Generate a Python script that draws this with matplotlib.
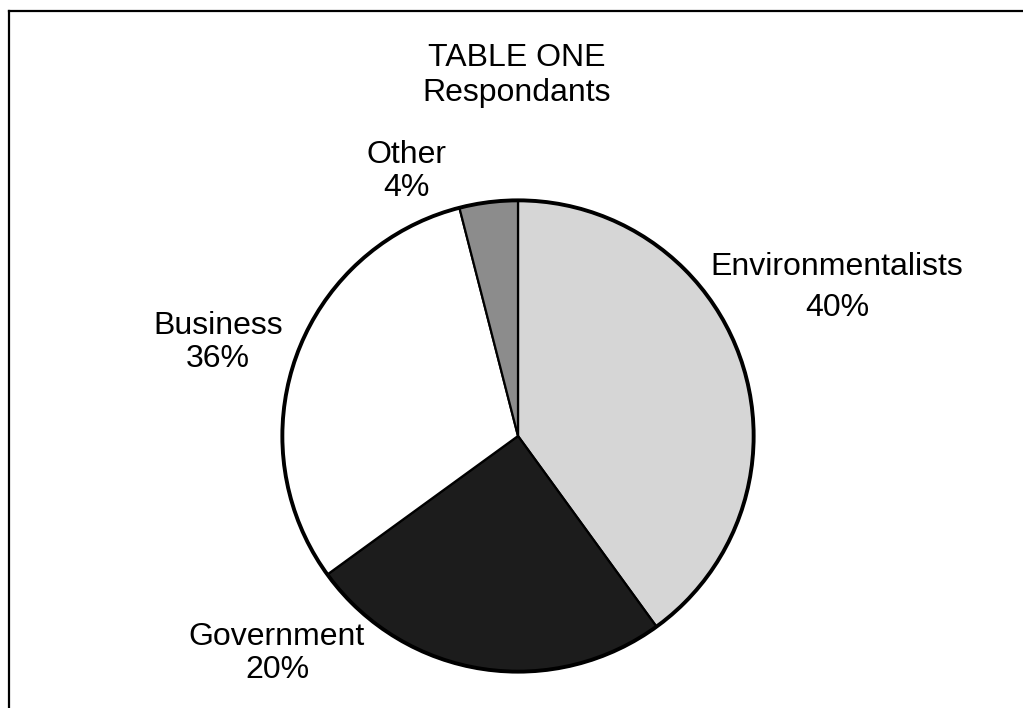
import matplotlib
matplotlib.use('Agg')
import matplotlib.pyplot as plt
from matplotlib.lines import Line2D
from matplotlib.patches import Circle

# Respondent groups, clockwise from 12 o'clock
groups = ['Environmentalists', 'Government', 'Business', 'Other']
# wedge sizes as drawn in the original (the drawing does not match the printed percents)
shares = [40, 25, 31, 4]
# percentages as printed on the chart
printed_pct = ['40%', '20%', '36%', '4%']
colors = ['#d6d6d6', '#1c1c1c', '#ffffff', '#8c8c8c']

plt.rcParams['font.family'] = ['Liberation Sans', 'DejaVu Sans']

W, H = 1023, 708
fig = plt.figure(figsize=(W / 100, H / 100), dpi=100)
fig.patch.set_facecolor('white')

# pie centre and radius in pixels
cx, cy, r = 518, 436, 238
ax = fig.add_axes([(cx - r) / W, (H - cy - r) / H, 2 * r / W, 2 * r / H])
ax.pie(shares, colors=colors, startangle=90, counterclock=False,
       wedgeprops=dict(edgecolor='black', linewidth=1.6), radius=1)
ax.add_patch(Circle((0, 0), 1, fill=False, edgecolor='black', linewidth=2.8))
ax.set_xlim(-1.01, 1.01)
ax.set_ylim(-1.01, 1.01)
ax.set_aspect('equal')
ax.axis('off')

# scanned frame: only the left and top edges are visible
fig.add_artist(Line2D([9 / W, 9 / W], [0, 1 - 11 / H], transform=fig.transFigure, color='black', lw=1.6))
fig.add_artist(Line2D([9 / W, 1], [1 - 11 / H, 1 - 11 / H], transform=fig.transFigure, color='black', lw=1.6))

def px_text(x, y, s, **kw):
    fig.text(x / W, 1 - y / H, s, ha='center', va='center', fontsize=23, **kw)

px_text(517, 58, 'TABLE ONE')
px_text(517, 93, 'Respondants')

# label positions (pixel centres) for name and percent lines
label_pos = {
    'Environmentalists': (837, 267, 308),
    'Government': (277, 637, 670),
    'Business': (218, 326, 359),
    'Other': (406, 155, 188),
}
for name, pct in zip(groups, printed_pct):
    x, y1, y2 = label_pos[name]
    px_text(x, y1, name)
    px_text(x, y2, pct)

fig.savefig('out.png', dpi=100, facecolor='white')
